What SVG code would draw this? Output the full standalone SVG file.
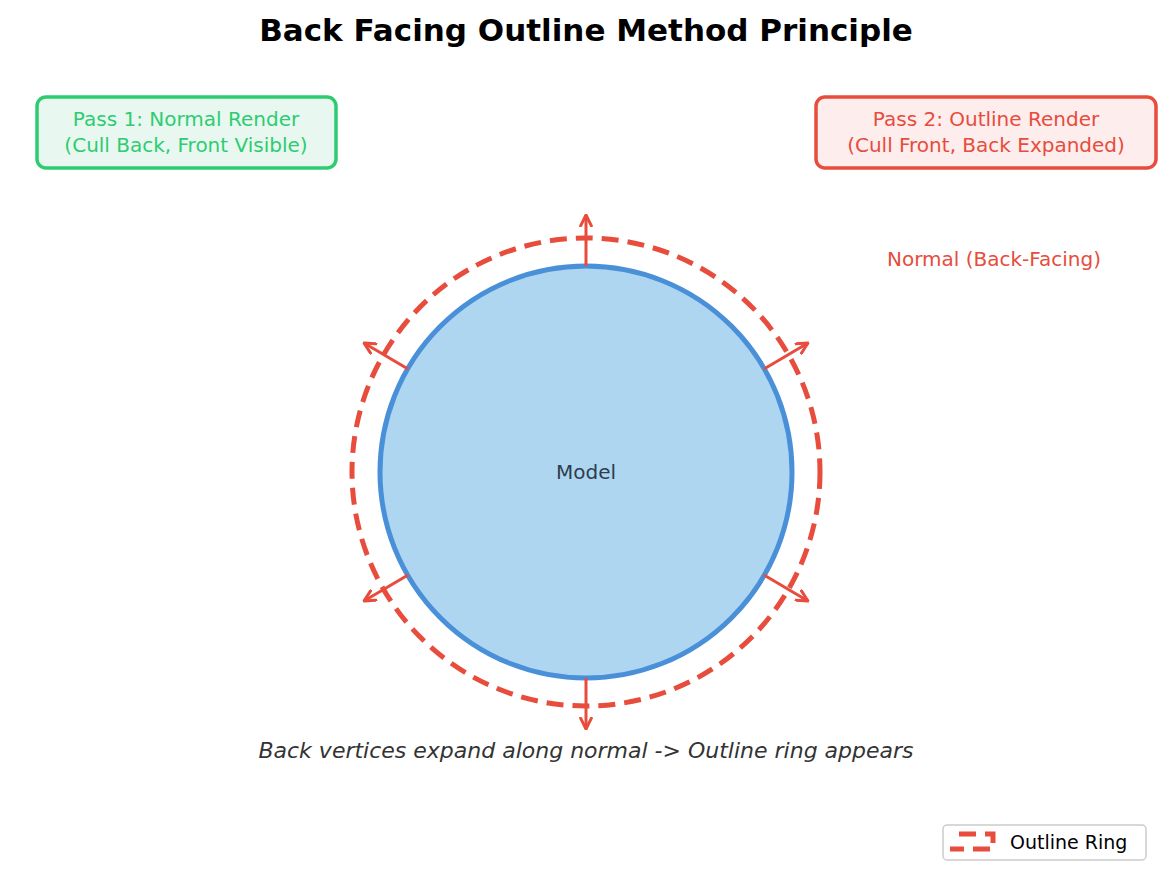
<svg xmlns="http://www.w3.org/2000/svg" width="1172" height="887" viewBox="0 0 1172 887">
<style>
text{font-family:"DejaVu Sans",sans-serif}
.n{stroke:#e74c3c;stroke-width:3;fill:none;marker-end:url(#ah)}
</style>
<defs>
<marker id="ah" viewBox="0 0 10 10" refX="9" refY="5" markerWidth="4.5" markerHeight="4.5" orient="auto" markerUnits="strokeWidth">
<path d="M1,1 L9,5 L1,9" fill="none" stroke="#e74c3c" stroke-width="2.2" stroke-linecap="round" stroke-linejoin="round"/>
</marker>
</defs>
<rect width="1172" height="887" fill="#fff"/>
<text x="586" y="41" font-size="31" font-weight="bold" text-anchor="middle">Back Facing Outline Method Principle</text>
<g id="model">
<circle cx="586" cy="472" r="206" fill="#aed6f1" stroke="#4a90d9" stroke-width="5"/>
<text x="586" y="479" font-size="20" fill="#2c3e50" text-anchor="middle">Model</text>
</g>
<g id="ring">
<circle cx="586" cy="472" r="234" fill="none" stroke="#e74c3c" stroke-width="5" stroke-dasharray="17 9"/>
</g>
<g id="connectors">
<line class="n" x1="586" y1="266" x2="586" y2="215"/>
<line class="n" x1="764" y1="369" x2="808" y2="343"/>
<line class="n" x1="408" y1="369" x2="364" y2="343"/>
<line class="n" x1="408" y1="575" x2="364" y2="601"/>
<line class="n" x1="764" y1="575" x2="808" y2="601"/>
<line class="n" x1="586" y1="678" x2="586" y2="729"/>
</g>
<g id="pass1">
<rect x="37" y="97" width="299" height="71" rx="9" fill="#e8f8f0" stroke="#2ecc71" stroke-width="3.5"/>
<text x="186" y="126" font-size="20" fill="#2ecc71" text-anchor="middle">Pass 1: Normal Render</text>
<text x="186" y="152" font-size="20" fill="#2ecc71" text-anchor="middle">(Cull Back, Front Visible)</text>
</g>
<g id="pass2">
<rect x="816" y="97" width="340" height="71" rx="9" fill="#fdeded" stroke="#e74c3c" stroke-width="3.5"/>
<text x="986" y="126" font-size="20" fill="#e74c3c" text-anchor="middle">Pass 2: Outline Render</text>
<text x="986" y="152" font-size="20" fill="#e74c3c" text-anchor="middle">(Cull Front, Back Expanded)</text>
</g>
<text x="994" y="266" font-size="20" fill="#e74c3c" text-anchor="middle">Normal (Back-Facing)</text>
<text x="586" y="758" font-size="22" font-style="italic" fill="#333" text-anchor="middle">Back vertices expand along normal -&gt; Outline ring appears</text>
<g id="legend">
<rect x="943" y="825" width="203" height="35" rx="4" fill="#fff" stroke="#ccc" stroke-width="1.5"/>
<path d="M959,834 H993 V849 H950" fill="none" stroke="#e74c3c" stroke-width="5" stroke-dasharray="17 9"/>
<text x="1010" y="849" font-size="19" fill="#000">Outline Ring</text>
</g>
</svg>
